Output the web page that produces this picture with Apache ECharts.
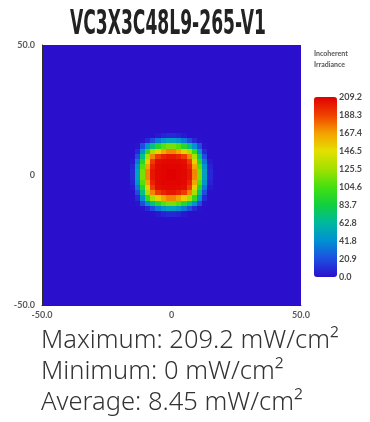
<!DOCTYPE html>
<html>
<head>
<meta charset="utf-8">
<script src="https://cdn.jsdelivr.net/npm/echarts@6/dist/echarts.min.js"></script>
<style>html,body{margin:0;padding:0;background:#fff;}#c{width:370px;height:422px;}</style>
</head>
<body>
<div id="c"></div>
<script>
const titleText = 'VC3X3C48L9-265-V1';
const axisTickLabels = ['-50.0', '0', '50.0'];
const axisTickValues = [-50, 0, 50];
const colorbarLabels = ['0.0', '20.9', '41.8', '62.8', '83.7', '104.6', '125.5', '146.5', '167.4', '188.3', '209.2'];
const valueMin = 0;
const valueMax = 209.2;
const statLines = ['Maximum: 209.2 mW/cm\u00B2', 'Minimum: 0 mW/cm\u00B2', 'Average: 8.45 mW/cm\u00B2'];
const legendTitle = ['Incoherent', 'Irradiance'];
// spot cells (2 x 2 units each); columns x = -15 .. 15, rows y = 15 .. -15 (top to bottom), mW/cm2
const spotColX = [-15, -13, -11, -9, -7, -5, -3, -1, 1, 3, 5, 7, 9, 11, 13, 15];
const spotRowY = [15, 13, 11, 9, 7, 5, 3, 1, -1, -3, -5, -7, -9, -11, -13, -15];
const spotRows = [
  [0, 0, 0, 0, 0, 3, 6, 8, 8, 6, 3, 0, 0, 0, 0, 0],
  [0, 0, 1, 8, 20, 34, 45, 50, 50, 45, 34, 20, 8, 1, 0, 0],
  [0, 1, 20, 44, 70, 92, 108, 116, 116, 108, 92, 70, 44, 20, 1, 0],
  [0, 8, 44, 97, 127, 151, 165, 173, 173, 165, 151, 127, 97, 44, 8, 0],
  [0, 20, 70, 127, 173, 190, 198, 202, 202, 198, 190, 173, 127, 70, 20, 0],
  [3, 34, 92, 151, 190, 205, 206, 207, 207, 206, 205, 190, 151, 92, 34, 3],
  [6, 45, 108, 165, 198, 206, 208, 208, 208, 208, 206, 198, 165, 108, 45, 6],
  [8, 50, 116, 173, 202, 207, 208, 209.2, 209.2, 208, 207, 202, 173, 116, 50, 8],
  [8, 50, 116, 173, 202, 207, 208, 209.2, 209.2, 208, 207, 202, 173, 116, 50, 8],
  [6, 45, 108, 165, 198, 206, 208, 208, 208, 208, 206, 198, 165, 108, 45, 6],
  [3, 34, 92, 151, 190, 205, 206, 207, 207, 206, 205, 190, 151, 92, 34, 3],
  [0, 20, 70, 127, 173, 190, 198, 202, 202, 198, 190, 173, 127, 70, 20, 0],
  [0, 8, 44, 97, 127, 151, 165, 173, 173, 165, 151, 127, 97, 44, 8, 0],
  [0, 1, 20, 44, 70, 92, 108, 116, 116, 108, 92, 70, 44, 20, 1, 0],
  [0, 0, 1, 8, 20, 34, 45, 50, 50, 45, 34, 20, 8, 1, 0, 0],
  [0, 0, 0, 0, 0, 3, 6, 8, 8, 6, 3, 0, 0, 0, 0, 0]
];
const cellHalf = 1;
const paletteColors = ['#2a10cc', '#1e4ee0', '#0090d4', '#00b8a0', '#10d040', '#44e010', '#a4e000', '#e4e000', '#f4a000', '#f04000', '#e00000'];

const cellData = [];
spotRows.forEach((row, r) => row.forEach((v, c) => cellData.push([spotColX[c], spotRowY[r], v])));

const chart = echarts.init(document.getElementById('c'), null, {renderer: 'canvas'});
const labelFont = 'Lato, "DejaVu Sans", sans-serif';
const axisLab = {fontSize: 9, fontWeight: 'bold', color: '#5a5a5a', fontFamily: labelFont,
  formatter: v => axisTickLabels[axisTickValues.indexOf(v)]};
chart.setOption({
  animation: false,
  backgroundColor: '#ffffff',
  grid: [
    {left: 42, top: 45, width: 259, height: 260, show: true, backgroundColor: paletteColors[0], borderWidth: 0},
    {left: 314, top: 97, width: 23, height: 180}
  ],
  xAxis: [
    {type: 'value', gridIndex: 0, min: -50, max: 50, interval: 50, z: 10,
     axisLine: {show: true, onZero: false, lineStyle: {color: '#2b2b2b', width: 1}},
     axisTick: {show: false}, splitLine: {show: false},
     axisLabel: Object.assign({margin: 6}, axisLab)},
    {type: 'value', gridIndex: 1, show: false}
  ],
  yAxis: [
    {type: 'value', gridIndex: 0, min: -50, max: 50, interval: 50, z: 10,
     axisLine: {show: true, onZero: false, lineStyle: {color: '#2b2b2b', width: 1}},
     axisTick: {show: false}, splitLine: {show: false},
     axisLabel: Object.assign({margin: 7}, axisLab)},
    {type: 'value', gridIndex: 1, min: valueMin, max: valueMax, interval: valueMax / 10, position: 'right',
     axisLine: {show: false}, axisTick: {show: false}, splitLine: {show: false},
     axisLabel: {margin: 2, fontSize: 9, fontWeight: 'bold', color: '#4a4a4a', fontFamily: labelFont,
       formatter: v => colorbarLabels[Math.round(v / (valueMax / 10))]}}
  ],
  visualMap: {
    type: 'continuous', seriesIndex: 0, dimension: 2, min: valueMin, max: valueMax,
    left: 314, top: 97, itemWidth: 23, itemHeight: 180, padding: 0,
    calculable: false, realtime: false, text: null, showLabel: false,
    inRange: {color: paletteColors}
  },
  series: [{
    type: 'custom', xAxisIndex: 0, yAxisIndex: 0, data: cellData, silent: true, clip: true,
    renderItem: function (params, api) {
      const x = api.value(0), y = api.value(1);
      const p0 = api.coord([x - cellHalf, y + cellHalf]);
      const p1 = api.coord([x + cellHalf, y - cellHalf]);
      const x0 = Math.floor(p0[0]), y0 = Math.floor(p0[1]);
      return {
        type: 'rect',
        shape: {x: x0, y: y0, width: Math.ceil(p1[0]) - x0, height: Math.ceil(p1[1]) - y0},
        style: {fill: api.visual('color')}
      };
    }
  }],
  graphic: [
    {type: 'text', left: 70, top: 8, scaleX: 0.56,
     style: {text: titleText, font: 'bold 34px "DejaVu Sans Condensed", "Liberation Sans Narrow", sans-serif', fill: '#222'}},
    {type: 'text', left: 314, top: 48,
     style: {text: legendTitle.join('\n'), font: 'bold 7px ' + labelFont, lineHeight: 11, fill: '#555'}},
    {type: 'text', left: 41, top: 325,
     style: {text: statLines.join('\n'), font: '300 25.5px "Noto Sans", sans-serif', lineHeight: 31, fill: '#333'}}
  ]
});
</script>
</body>
</html>
